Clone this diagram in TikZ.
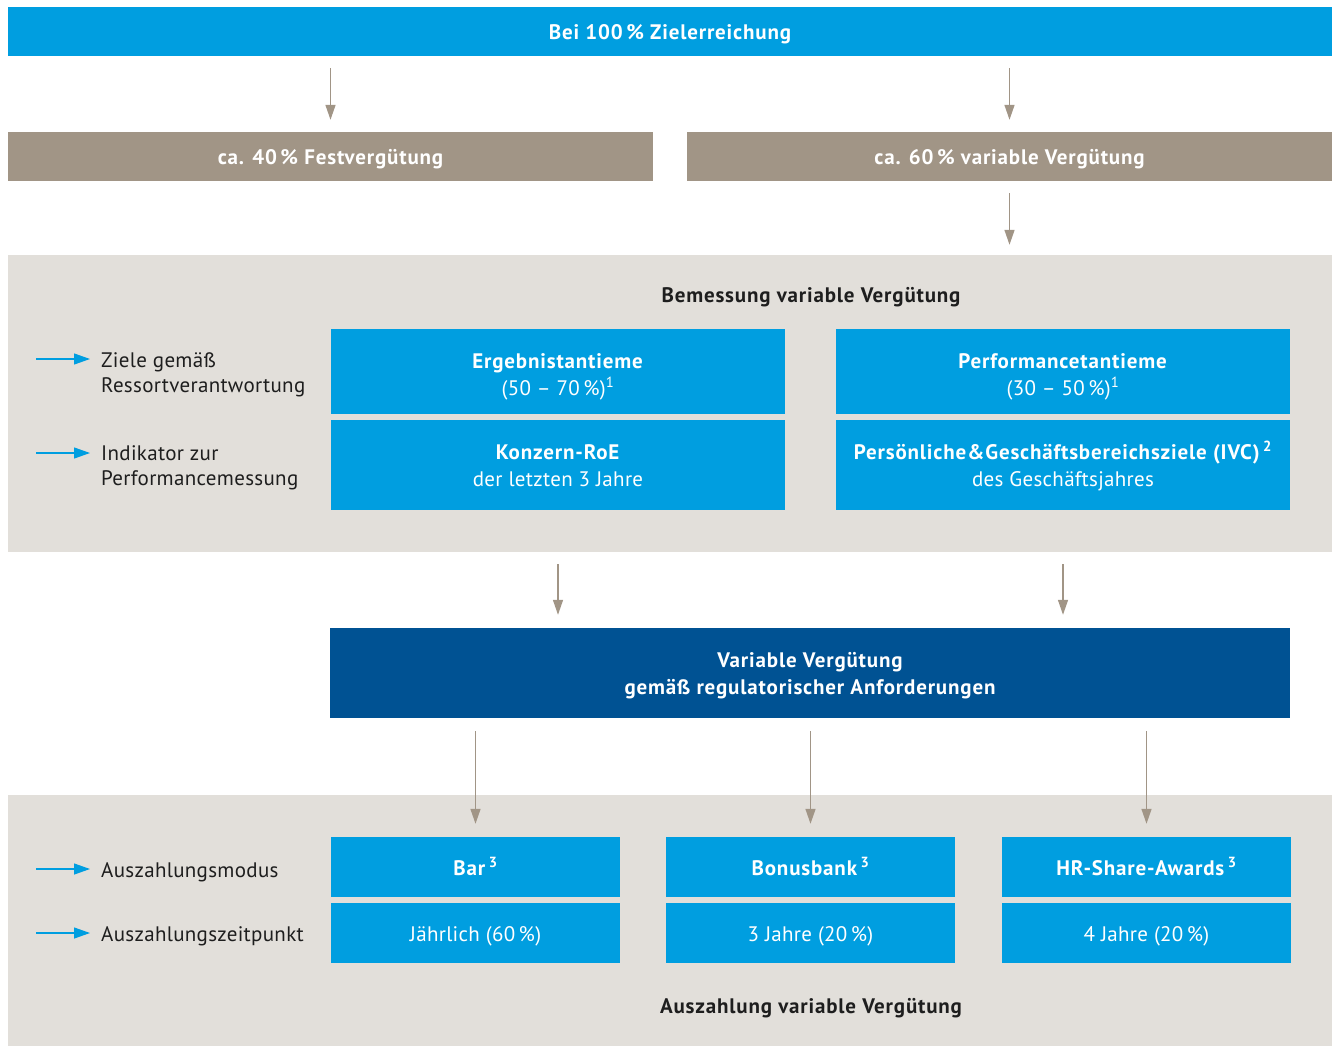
\documentclass[tikz,border=0pt]{standalone}
\usepackage{fontspec}
\setmainfont{PT Sans}[LetterSpace=1.5,BoldFeatures={LetterSpace=4}]
\usetikzlibrary{arrows.meta}
\definecolor{mrblue}{RGB}{0,158,224}
\definecolor{mrdark}{RGB}{0,82,147}
\definecolor{mrtaupe}{RGB}{161,149,134}
\definecolor{mrbg}{RGB}{226,223,218}
\definecolor{mrtext}{RGB}{30,30,30}
\newcommand\lowerby[2]{\raisebox{-#1}[\height][\depth]{#2}}

\begin{document}
\begin{tikzpicture}[x=1pt,y=-1pt,font=\fontsize{21}{27}\selectfont,
  box/.style={rectangle,inner sep=0pt,align=center,text=white},
  onerow/.style={text height=16pt,text depth=0pt},
  bluebox/.style={box,fill=mrblue,minimum width=454pt},
  smallbox/.style={box,onerow,fill=mrblue,minimum width=289pt,minimum height=60pt},
  taupebox/.style={box,onerow,fill=mrtaupe,minimum width=645pt,minimum height=49pt,font=\fontsize{21}{24}\selectfont\bfseries},
  region/.style={rectangle,inner sep=0pt,fill=mrbg,minimum width=1324pt},
  lbl/.style={anchor=west,align=left,inner sep=0pt,text=mrtext,yshift=-3pt,font=\fontsize{21}{25}\selectfont},
  ttl/.style={inner sep=0pt,text=mrtext,yshift=-2pt,font=\fontsize{21}{24}\selectfont\bfseries},
  arr/.style={draw=mrtaupe,line width=1.4pt,-{Triangle[length=15pt,width=10pt]}},
  blarr/.style={draw=mrblue,line width=1.2pt,-{Triangle[length=16pt,width=11pt]}}]
\useasboundingbox (0,0) rectangle (1332,1046);

% backgrounds
\node[region,minimum height=297pt] (bem) at (670,403.5) {};
\node[region,minimum height=251pt] (aus) at (670,920.5) {};

% top
\node[box,onerow,fill=mrblue,minimum width=1324pt,minimum height=49pt,font=\fontsize{21}{24}\selectfont\bfseries] (top) at (670,31.5) {Bei 100\,\% Zielerreichung};
\node[taupebox] (fest) at (330.5,156.5) {ca. 40\,\% Festvergütung};
\node[taupebox] (var) at (1009.5,156.5) {ca. 60\,\% variable Vergütung};

% Bemessung
\node[ttl] (bemtitle) at (811,295) {Bemessung variable Vergütung};
\node[bluebox,minimum height=85pt] (ergeb) at (558,371.5) {\lowerby{5pt}{\textbf{Ergebnistantieme}}\\\lowerby{5pt}{(50 – 70\,\%)\textsuperscript{1}}};
\node[bluebox,minimum height=90pt] (konzern) at (558,465) {\lowerby{1pt}{\textbf{Konzern-RoE}}\\\lowerby{1pt}{der letzten 3 Jahre}};
\node[bluebox,minimum height=85pt] (perf) at (1063,371.5) {\lowerby{5pt}{\textbf{Performancetantieme}}\\\lowerby{5pt}{(30 – 50\,\%)\textsuperscript{1}}};
\node[bluebox,minimum height=90pt] (pers) at (1063,465) {\lowerby{1pt}{\textbf{Persönliche\kern1pt\&\kern1pt Geschäftsbereichsziele (IVC)\,\textsuperscript{2}}}\\\lowerby{1pt}{des Geschäftsjahres}};

\node[lbl] (ziele) at (101,371.5) {Ziele gemäß\\Ressortverantwortung};
\node[lbl] (indik) at (101,465) {Indikator zur\\Performancemessung};
\coordinate (z0) at (36,359);
\coordinate (i0) at (36,453);

% variable Verguetung
\node[box,fill=mrdark,minimum width=960pt,minimum height=90pt,font=\fontsize{21}{27}\selectfont\bfseries] (vv) at (810,673) {\lowerby{3pt}{Variable Vergütung}\\\lowerby{3pt}{gemäß regulatorischer Anforderungen}};

% Auszahlung
\node[smallbox] (bar) at (475.5,867) {\textbf{Bar\,\smash{\textsuperscript{3}}}};
\node[smallbox] (jahr) at (475.5,933) {Jährlich (60\,\%)};
\node[smallbox] (bonus) at (810.5,867) {\textbf{Bonusbank\,\smash{\textsuperscript{3}}}};
\node[smallbox] (drei) at (810.5,933) {3 Jahre (20\,\%)};
\node[smallbox] (hr) at (1146.5,867) {\textbf{HR-Share-Awards\,\smash{\textsuperscript{3}}}};
\node[smallbox] (vier) at (1146.5,933) {4 Jahre (20\,\%)};
\node[ttl] (austitle) at (811,1006) {Auszahlung variable Vergütung};

\node[lbl] (modus) at (101,869) {Auszahlungsmodus};
\node[lbl] (zeit) at (101,933) {Auszahlungszeitpunkt};
\coordinate (m0) at (36,869);
\coordinate (t0) at (36,933);

% arrows
\draw[arr,shorten <=12pt,shorten >=12pt] (top.south -| fest.north) -- (fest.north);
\draw[arr,shorten <=12pt,shorten >=12pt] (top.south -| var.north) -- (var.north);
\draw[arr,shorten <=12pt,shorten >=10pt] (var.south) -- (var.south |- bem.north);
\draw[arr,shorten <=12pt,shorten >=13pt] (konzern.south |- bem.south) -- (konzern.south |- vv.north);
\draw[arr,shorten <=12pt,shorten >=13pt] (pers.south |- bem.south) -- (pers.south |- vv.north);
\foreach \b in {bar,bonus,hr}
  \draw[arr,shorten <=13pt,shorten >=13pt] (vv.south -| \b.north) -- (\b.north);

\draw[blarr,shorten >=11pt] (z0) -- (z0 -| ziele.west);
\draw[blarr,shorten >=11pt] (i0) -- (i0 -| indik.west);
\draw[blarr,shorten >=11pt] (m0) -- (m0 -| modus.west);
\draw[blarr,shorten >=11pt] (t0) -- (t0 -| zeit.west);
\end{tikzpicture}
\end{document}
